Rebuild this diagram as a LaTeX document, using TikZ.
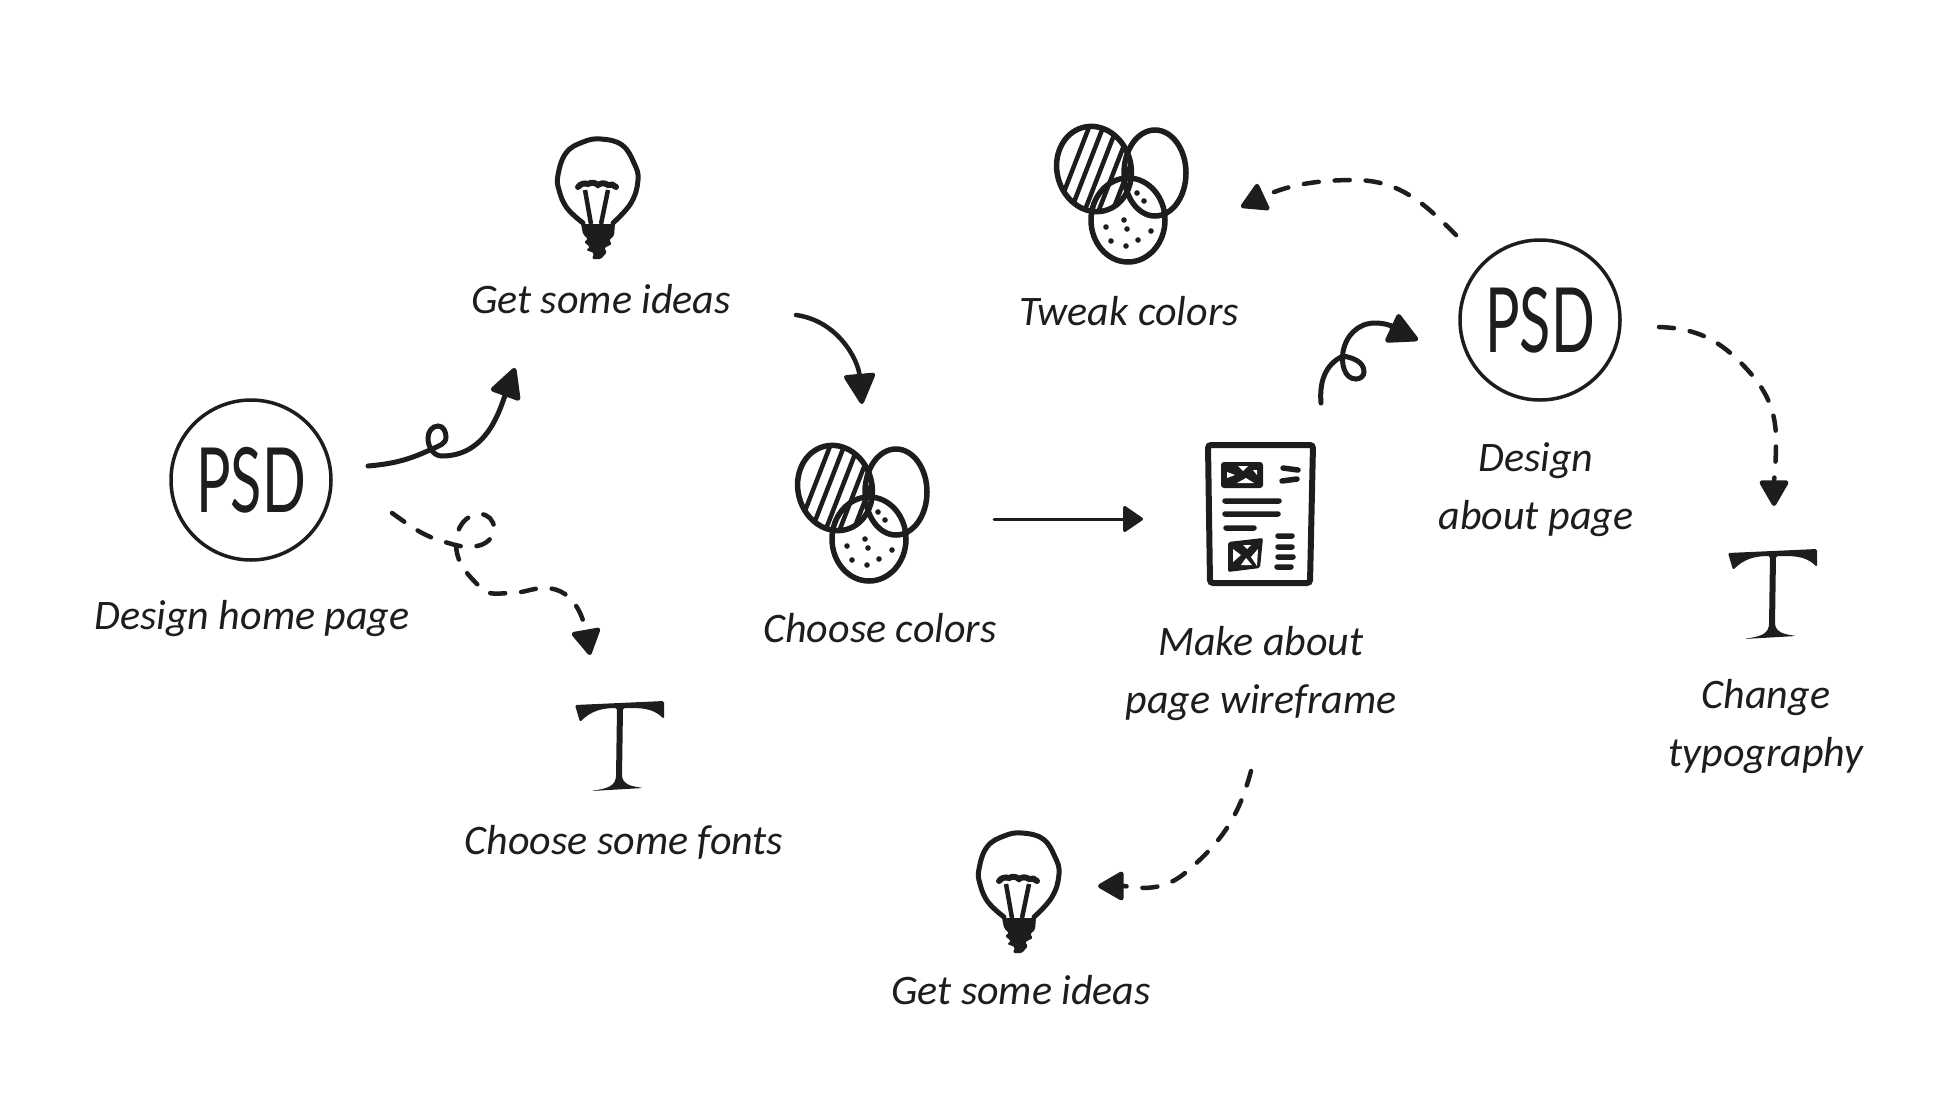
\documentclass[tikz,border=0pt]{standalone}
\usepackage{fontspec}
\usetikzlibrary{arrows.meta}
\setmainfont{Carlito}
\newfontfamily\handfont{Carlito}[ItalicFont=* Italic]
\newfontfamily\psdfont{Lato}
\definecolor{inkc}{HTML}{1D1D1B}
\tikzset{
    steplabel/.style = {align=center,text=inkc,font=\handfont\itshape\fontsize{42}{58}\selectfont},
    psdnode/.style = {circle,draw=inkc,line width=3.5pt,minimum size=160pt,inner sep=0pt,text=inkc,font=\psdfont\fontsize{90}{90}\selectfont},
    edgec/.style = {line width=5pt,inkc,line cap=round,-{Triangle[length=33pt,width=33pt,round]}},
    edget/.style = {line width=3pt,inkc,line cap=round,-{Triangle[length=21pt,width=28pt,round]}},
    edged/.style = {line width=4.5pt,inkc,line cap=round,dash pattern=on 15pt off 16pt,-{Triangle[length=28pt,width=31pt,round]}},
    bulb/.pic = {
        \draw[inkc,line width=5pt,line cap=round] plot[smooth,tension=0.7] coordinates {(-15,-23) (-31,-8) (-39,10) (-40,25) (-32,47) (-15,58) (3,61) (24,55) (36,37) (40,20) (33,-3) (15,-23)};
        \draw[inkc,line width=6pt,line cap=round] (-20,13) to[bend left=35] (-10,16) to[bend left=35] (0,15) to[bend left=35] (10,15) to[bend left=35] (18,13);
        \draw[inkc,line width=4.5pt] (-13,10) -- (-7,-24) (10,10) -- (3,-24);
        \fill[inkc,rounded corners=1.5pt] (-17,-24) -- (17,-24) -- (16,-36) -- (11,-40) -- (14,-44) -- (6,-48) -- (9,-52) -- (3,-59) -- (-6,-59) -- (-4,-53) -- (-12,-50) -- (-8,-47) -- (-14,-42) -- (-10,-39) -- (-15,-34) -- cycle;
    },
    venn/.pic = {
        \begin{scope}
        \clip[rotate around={15:(-27,26)}] (-27,26) ellipse (37 and 43);
        \foreach \k in {-66,-52,-38,-24,-10,-3,4,10} \draw[inkc,line width=4.5pt] (\k,-20) -- ({\k+38},78);
        \end{scope}
        \draw[inkc,line width=5.5pt,rotate around={15:(-27,26)}] (-27,26) ellipse (37 and 43);
        \draw[inkc,line width=5.5pt] (34,22) ellipse (31 and 43);
        \draw[inkc,line width=5.5pt] (7,-25) ellipse (37 and 42);
        \foreach \dx/\dy in {-15/-32,3/-25,6/-34,30/-36,-10/-46,17/-45,5/-51,16/2,23/-6} \fill[inkc] (\dx,\dy) circle (2.8);
    },
    wirepage/.pic = {
        \draw[inkc,line width=6pt,rounded corners=3pt] (-52,69) -- (53,69) -- (50,-69) -- (-50,-69) -- cycle;
        \fill[inkc,rounded corners=3pt] (-39,52) -- (3,52) -- (3,26) -- (-39,26) -- cycle;
        \fill[white] (-33,42) -- (-33,36) -- (-25,39) -- cycle (-22,48) -- (-12,48) -- (-17,43) -- cycle (-7,44) -- (-3,44) -- (-3,39) -- cycle (-23,31) -- (-6,31) -- (-14,36) -- cycle;
        \fill[inkc,rounded corners=2pt] (-32,-28) -- (3,-24) -- (0,-54) -- (-32,-58) -- cycle;
        \fill[white] (-17,-31) -- (-9,-31) -- (-13,-35) -- cycle (-27,-35) -- (-27,-48) -- (-19,-41) -- cycle (-2,-35) -- (-9,-43) -- (-3,-52) -- cycle (-19,-51) -- (-8,-51) -- (-14,-44) -- cycle;
        \draw[inkc,line width=5.5pt,line cap=round] (23,46) -- (38,44) (22,33) -- (37,35) (-35,13) -- (19,13) (-35,0) -- (18,0) (-34,-14) -- (-6,-14) (18,-22) -- (32,-22) (18,-33) -- (32,-33) (18,-43) -- (33,-43) (17,-53) -- (31,-53);
    },
    letterT/.pic = {
        \fill[inkc,rounded corners=1.5pt] (-45,42) -- (44,46) -- (44,28) to[out=135,in=0] (3,39) -- (2,-30) to[out=-70,in=170] (23,-41) -- (-29,-44) to[out=10,in=-100] (-4,-30) -- (-3,39) to[out=180,in=45] (-40,25) -- cycle;
    }
}
\begin{document}
\begin{tikzpicture}[x=1pt,y=1pt]
\path[use as bounding box] (0,0) rectangle (1952,-1096);
% home page steps
\node[psdnode] at (251,-480) (homepsd) {\scalebox{0.64}[1]{PSD}};
\node[steplabel] at (252,-619) (homelabel) {Design home page};
\pic at (598,-200) {bulb};
\node[steplabel] at (601,-299) (ideaslabel) {Get some ideas};
\pic at (862,-514) {venn};
\node[steplabel] at (880,-628) (colorslabel) {Choose colors};
\pic at (620,-747) {letterT};
\node[steplabel] at (624,-842) (fontslabel) {Choose some fonts};
% about page steps
\pic at (1260,-514) {wirepage};
\node[steplabel] at (1261,-674) (wirelabel) {Make about\\page wireframe};
\node[psdnode] at (1540,-320) (aboutpsd) {\scalebox{0.64}[1]{PSD}};
\node[steplabel] at (1536,-490) (aboutlabel) {Design\\about page};
\pic at (1121,-195) {venn};
\node[steplabel] at (1129,-311) (tweaklabel) {Tweak colors};
\pic at (1773,-595) {letterT};
\node[steplabel] at (1766,-727) (typelabel) {Change\\typography};
\pic at (1019,-894) {bulb};
\node[steplabel] at (1021,-990) (ideasblabel) {Get some ideas};
%
\coordinate (homea) at (368,-466);
\coordinate (ideasin) at (515,-368);
\coordinate (homeb) at (392,-513);
\coordinate (fontsin) at (590,-655);
\coordinate (ideasout) at (796,-315);
\coordinate (colorsin) at (862,-404);
\coordinate (colorsout) at (994,-519);
\coordinate (wirein) at (1143,-519);
\coordinate (wireout) at (1321,-403);
\coordinate (aboutin) at (1418,-340);
\coordinate (abouta) at (1456,-235);
\coordinate (tweakin) at (1241,-207);
\coordinate (aboutb) at (1659,-327);
\coordinate (typein) at (1774,-506);
\coordinate (wireb) at (1251,-771);
\coordinate (ideasbin) at (1098,-886);
%
\draw[edgec] (homea) to[out=5,in=205] (432,-449) to[out=25,in=-90] (446,-437) to[out=90,in=0] (438,-426) to[out=180,in=90] (428,-438) to[out=-90,in=180] (442,-456) to[out=0,in=-110] (ideasin);
\draw[edged] (homeb) to[out=-35,in=160] (438,-540) to[out=-15,in=190] (477,-546) to[out=10,in=-90] (494,-528) to[out=90,in=0] (480,-514) to[out=180,in=90] (456,-543) to[out=-90,in=135] (481,-588) to[out=-45,in=180] (511,-593) to[out=0,in=180] (545,-588) to[out=0,in=100] (fontsin);
\draw[edgec,line width=4.5pt] (ideasout) to[out=-8,in=95] (colorsin);
\draw[edget] (colorsout) -- (wirein);
\draw[edgec] (wireout) to[out=95,in=205] (1343,-356) to[out=-10,in=90] (1364,-372) to[out=-90,in=0] (1356,-379) to[out=180,in=-100] (1343,-352) to[out=80,in=180] (1375,-323) to[out=0,in=155] (aboutin);
\draw[edged] (abouta) to[out=135,in=0] (1354,-180) to[out=180,in=25] (tweakin);
\draw[edged] (aboutb) to[out=-2,in=135] (1740,-362) to[out=-45,in=90] (1776,-440) to[out=-90,in=90] (typein);
\draw[edged] (wireb) to[out=-105,in=40] (1185,-873) to[out=220,in=0] (ideasbin);
\end{tikzpicture}
\end{document}
